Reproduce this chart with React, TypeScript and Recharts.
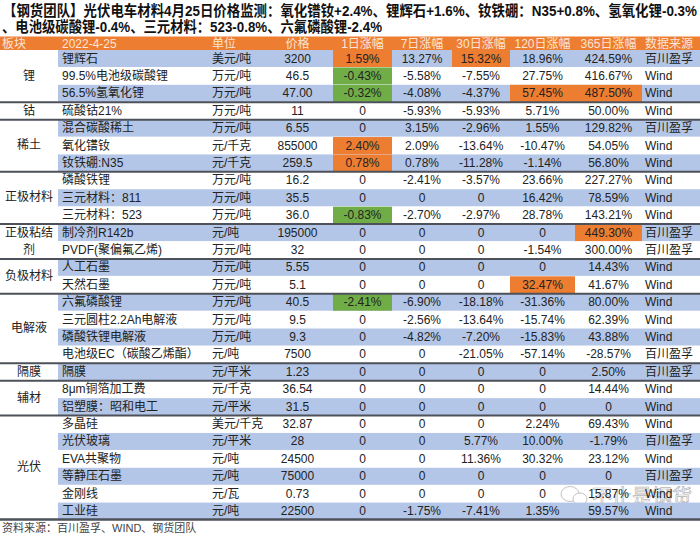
import React from 'react';
import { BarChart, Bar, XAxis, YAxis } from 'recharts';

// table content, row by row
const NAMES = [
  '锂辉石', '99.5%电池级碳酸锂', '56.5%氢氧化锂', '硫酸钴21%', '混合碳酸稀土', '氧化镨钕', '钕铁硼:N35',
  '磷酸铁锂', '三元材料：811', '三元材料：523', '制冷剂R142b', 'PVDF(聚偏氟乙烯)', '人工石墨', '天然石墨',
  '六氟磷酸锂', '三元圆柱2.2Ah电解液', '磷酸铁锂电解液', '电池级EC（碳酸乙烯酯）', '隔膜', '8μm铜箔加工费',
  '铝塑膜：昭和电工', '多晶硅', '光伏玻璃', 'EVA共聚物', '等静压石墨', '金刚线', '工业硅',
];
const UNITS = [
  '美元/吨', '万元/吨', '万元/吨', '万元/吨', '万元/吨', '元/千克', '元/千克', '万元/吨', '万元/吨', '万元/吨',
  '元/吨', '万元/吨', '万元/吨', '万元/吨', '万元/吨', '万元/吨', '万元/吨', '元/吨', '元/平米', '元/千克',
  '元/平米', '美元/千克', '元/平米', '元/吨', '元/吨', '元/瓦', '元/吨',
];
const PRICES = [
  '3200', '46.5', '47.00', '11', '6.55', '855000', '259.5', '16.2', '35.5', '36.0', '195000', '32', '5.55', '5.1',
  '40.5', '9.5', '9.3', '7500', '1.23', '36.54', '31.5', '32.87', '28', '24500', '75000', '0.73', '22500',
];
const D1 = [1.59, -0.43, -0.32, 0, 0, 2.4, 0.78, 0, 0, -0.83, 0, 0, 0, 0, -2.41, 0, 0, 0, 0, 0, 0, 0, 0, 0, 0, 0, 0];
const D7 = [13.27, -5.58, -4.08, -5.93, 3.15, 2.09, 0.78, -2.41, 0, -2.7, 0, 0, 0, 0, -6.9, -2.56, -4.82, 0, 0, 0, 0, 0, 0, 0, 0, 0, -1.75];
const D30 = [15.32, -7.55, -4.37, -5.93, -2.96, -13.64, -11.28, -3.57, 0, -2.97, 0, 0, 0, 0, -18.18, -13.64, -7.2, -21.05, 0, 0, 0, 0, 5.77, 11.36, 0, 0, -7.41];
const D120 = [18.96, 27.75, 57.45, 5.71, 1.55, -10.47, -1.14, 23.66, 16.42, 28.78, 0, -1.54, 0, 32.47, -31.36, -15.74, -15.83, -57.14, 0, 0, 0, 2.24, 10.0, 30.32, 0, 0, 1.35];
const D365 = [424.59, 416.67, 487.5, 50.0, 129.82, 54.05, 56.8, 227.27, 78.59, 143.21, 449.3, 300.0, 14.43, 41.67, 80.0, 62.39, 43.88, -28.57, 2.5, 14.44, 0, 69.43, -1.79, 23.12, 0, 15.87, 59.57];
const SOURCES = [
  '百川盈孚', 'Wind', 'Wind', 'Wind', '百川盈孚', 'Wind', 'Wind', 'Wind', 'Wind', 'Wind', '百川盈孚', '百川盈孚',
  'Wind', 'Wind', 'Wind', 'Wind', 'Wind', '百川盈孚', '百川盈孚', 'Wind', 'Wind', 'Wind', '百川盈孚', 'Wind',
  '百川盈孚', 'Wind', 'Wind',
];

// 板块 groups: label lines + first row + row count
const GROUPS = [
  { lines: ['锂'], start: 0, count: 3 },
  { lines: ['钴'], start: 3, count: 1 },
  { lines: ['稀土'], start: 4, count: 3 },
  { lines: ['正极材料'], start: 7, count: 3 },
  { lines: ['正极粘结', '剂'], start: 10, count: 2 },
  { lines: ['负极材料'], start: 12, count: 2 },
  { lines: ['电解液'], start: 14, count: 4 },
  { lines: ['隔膜'], start: 18, count: 1 },
  { lines: ['辅材'], start: 19, count: 2 },
  { lines: ['光伏'], start: 21, count: 6 },
];

// highlighted cells (row-column)
const MARKED: Record<string, 'up' | 'down'> = {
  '0-d1': 'up', '0-d30': 'up', '1-d1': 'down', '2-d1': 'down', '2-d120': 'up', '2-d365': 'up',
  '5-d1': 'up', '6-d1': 'up', '9-d1': 'down', '10-d365': 'up', '13-d120': 'up', '14-d1': 'down',
};

const HEADERS = ['板块', '2022-4-25', '单位', '价格', '1日涨幅', '7日涨幅', '30日涨幅', '120日涨幅', '365日涨幅', '数据来源'];
const TITLE_1 = '【钢货团队】光伏电车材料4月25日价格监测：氧化镨钕+2.4%、锂辉石+1.6%、钕铁硼：N35+0.8%、氢氧化锂-0.3%';
const TITLE_2 = '、电池级碳酸锂-0.4%、三元材料：523-0.8%、六氟磷酸锂-2.4%';
const FOOTNOTE = '资料来源：百川盈孚、WIND、钢货团队';
const WATERMARK = '不止是钢货';

// column layout
const COLS: { key: string; x0: number; x1: number; align: 'start' | 'middle' }[] = [
  { key: 'group', x0: 0, x1: 58, align: 'start' },
  { key: 'name', x0: 58, x1: 208, align: 'start' },
  { key: 'unit', x0: 208, x1: 262, align: 'start' },
  { key: 'price', x0: 262, x1: 333, align: 'middle' },
  { key: 'd1', x0: 333, x1: 392, align: 'middle' },
  { key: 'd7', x0: 392, x1: 452, align: 'middle' },
  { key: 'd30', x0: 452, x1: 510, align: 'middle' },
  { key: 'd120', x0: 510, x1: 575, align: 'middle' },
  { key: 'd365', x0: 575, x1: 642, align: 'middle' },
  { key: 'src', x0: 642, x1: 700, align: 'start' },
];

const BLUE = '#b4c6e7';
const ORANGE = '#ed7d31';
const GREEN = '#70ad47';
const TEXT = '#222';
const FONT = "'Liberation Sans', Arial, 'Noto Sans CJK SC', sans-serif";

const fmt = (v: number) => (v === 0 ? '0' : v.toFixed(2) + '%');

const rows = NAMES.map((name, i) => ({
  idx: i,
  name,
  unit: UNITS[i],
  price: PRICES[i],
  d1: fmt(D1[i]),
  d7: fmt(D7[i]),
  d30: fmt(D30[i]),
  d120: fmt(D120[i]),
  d365: fmt(D365[i]),
  src: SOURCES[i],
  full: 1,
}));

const textX = (c: (typeof COLS)[number]) =>
  c.align === 'middle' ? (c.x0 + c.x1) / 2 : c.x0 + (c.key === 'src' ? 3 : 4);

const RowShape = (props: any) => {
  const { y, height, payload } = props;
  const i: number = payload.idx;
  const cy = y + height / 2;
  const group = GROUPS.find((g) => g.start === i);
  const lastRow = i === NAMES.length - 1;
  return (
    <g>
      {i % 2 === 0 && <rect x={58} y={y} width={642} height={height} fill={BLUE} />}
      {COLS.slice(1).map((c) => {
        const mark = MARKED[`${i}-${c.key}`];
        return mark ? (
          <rect key={c.key} x={c.x0} y={y} width={c.x1 - c.x0} height={height} fill={mark === 'up' ? ORANGE : GREEN} />
        ) : null;
      })}
      {COLS.slice(1).map((c) => (
        <text
          key={c.key}
          x={textX(c)}
          y={cy}
          textAnchor={c.align}
          dominantBaseline="central"
          fontSize={12}
          fontFamily={FONT}
          fill={TEXT}
        >
          {payload[c.key]}
        </text>
      ))}
      {group && i > 0 && <line x1={0} x2={700} y1={y} y2={y} stroke="#4d5159" strokeWidth={2} />}
      {group &&
        group.lines.map((l, k) => (
          <text
            key={k}
            x={29}
            y={
              group.lines.length > 1
                ? y + height * (k + 0.5)
                : y + (height * group.count) / 2
            }
            textAnchor="middle"
            dominantBaseline="central"
            fontSize={12}
            fontFamily={FONT}
            fill={TEXT}
          >
            {l}
          </text>
        ))}
      {lastRow && <line x1={0} x2={700} y1={y + height} y2={y + height} stroke="#4d5159" strokeWidth={2.5} />}
    </g>
  );
};

const App: React.FC = () => {
  return (
    <div style={{ position: 'absolute', left: 0, top: 0, width: 700, height: 536, background: '#fff' }}>
      <BarChart
        layout="vertical"
        width={700}
        height={536}
        data={rows}
        margin={{ top: 50, right: 0, bottom: 16, left: 0 }}
        barCategoryGap={0}
      >
        <XAxis type="number" domain={[0, 1]} hide />
        <YAxis type="category" dataKey="name" hide />
        <Bar dataKey="full" isAnimationActive={false} shape={RowShape} />
        <g>
          <text x={3} y={16} fontSize={15} fontWeight="bold" fontFamily={FONT} fill="#111" textLength={694} lengthAdjust="spacingAndGlyphs">
            {TITLE_1}
          </text>
          <text x={2} y={32} fontSize={15} fontWeight="bold" fontFamily={FONT} fill="#111" textLength={380} lengthAdjust="spacingAndGlyphs">
            {TITLE_2}
          </text>
          <rect x={0} y={36.5} width={700} height={13.5} fill={ORANGE} />
          {COLS.map((c, k) => (
            <text
              key={c.key}
              x={c.key === 'group' ? 2 : textX(c)}
              y={43.5}
              textAnchor={c.align}
              dominantBaseline="central"
              fontSize={12}
              fontFamily={FONT}
              fill="#fbe5d6"
            >
              {HEADERS[k]}
            </text>
          ))}
          <text x={2} y={528} fontSize={11} dominantBaseline="central" fontFamily={FONT} fill="#444">
            {FOOTNOTE}
          </text>
          <g opacity={0.7}>
            <ellipse cx={570} cy={494} rx={9} ry={7.5} fill="#fff" stroke="#aaa" strokeWidth={1} />
            <ellipse cx={580} cy={499} rx={7} ry={6} fill="#fff" stroke="#aaa" strokeWidth={1} />
            <text x={592} y={497} fontSize={20} dominantBaseline="central" fontFamily={FONT} fill="#fff" stroke="#999" strokeWidth={0.7}>
              {WATERMARK}
            </text>
          </g>
        </g>
      </BarChart>
    </div>
  );
};

export default App;
